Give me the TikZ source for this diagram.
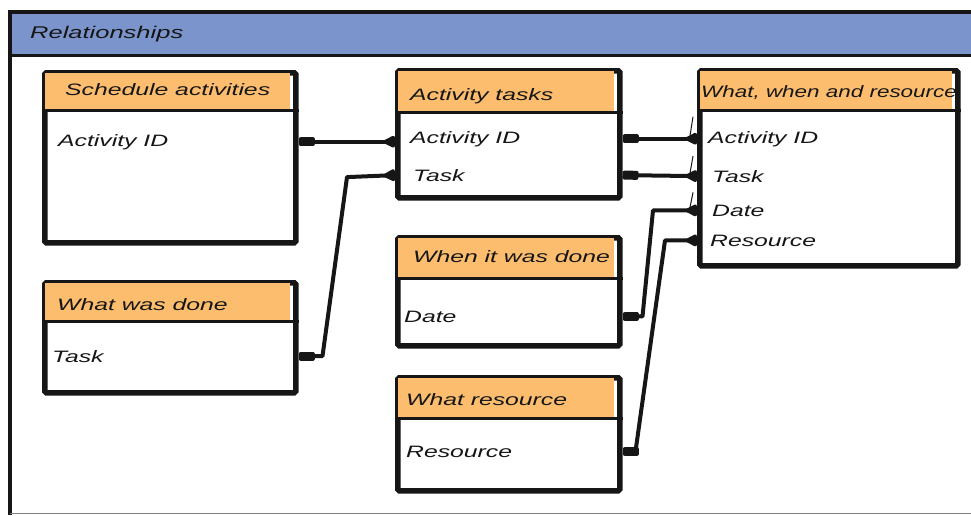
\documentclass[tikz,border=0pt]{standalone}
\usepackage{fontspec}
\newfontfamily\handfont[FakeStretch=1.5]{Liberation Sans}
\newfontfamily\handnarrow[FakeStretch=1.36]{Liberation Sans}
\usetikzlibrary{arrows.meta,calc}
\definecolor{bandblue}{RGB}{124,148,204}
\definecolor{headorange}{RGB}{252,190,110}
\definecolor{ink}{RGB}{22,22,22}

% entity box: id, x, y, width, height, header height
\newcommand{\entitybox}[6]{%
  \node[entity, minimum width=#4pt, minimum height=#5pt] (#1) at (#2,#3) {};
  \node[headbar, minimum width=#4pt-5.5pt, minimum height=#6pt-2.5pt] (#1-h) at (#2+2.75,#3+2.75) {};
  \draw[sepline] (#1.west |- #1-h.south) -- (#1.east |- #1-h.south);
}

\begin{document}
\begin{tikzpicture}[x=1pt,y=-1pt,
  entity/.style={draw=ink, line width=5.5pt, fill=white, rectangle, inner sep=0pt,
    anchor=north west, rounded corners=1.5pt},
  headbar/.style={fill=headorange, draw=none, rectangle, inner sep=0pt, anchor=north west},
  sepline/.style={draw=ink, line width=3.5pt},
  label/.style={font=\handfont\itshape\fontsize{16.5}{18}\selectfont, text=ink,
    anchor=base west, inner sep=0pt},
  link/.style={draw=ink, line width=4pt, line join=round,
    {Rectangle[length=16pt,width=9pt,round]}-{Triangle[reversed,length=14pt,width=13pt,round]}},
  prong/.style={draw=ink, line width=1pt}
]
\useasboundingbox (0,0) rectangle (971,515);

% outer frame with title band
\fill[bandblue] (10,12) rectangle (971,55);
\draw[ink, line width=3pt] (10,55) -- (971,55);
\draw[ink, line width=3.5pt] (971,12) -- (10,12) -- (10,515);
\draw[gray, line width=1pt] (10,513) -- (971,513);
\node[label, font=\handfont\itshape\fontsize{17}{19}\selectfont] (title) at (30,38) {Relationships};

% entities
\entitybox{sa}{42}{70}{251}{170}{40}
\entitybox{wd}{42}{280}{251}{110}{41}
\entitybox{at}{395}{68}{222}{127}{44}
\entitybox{wt}{395}{235}{222}{108}{43}
\entitybox{wr}{395}{375}{222}{113}{43}
\entitybox{ww}{697}{68}{258}{195}{42}

% headings
\node[label] (sa-t) at (65,95) {Schedule activities};
\node[label] (wd-t) at (57,310) {What was done};
\node[label] (at-t) at (410,100) {Activity tasks};
\node[label] (wt-t) at (413,262) {When it was done};
\node[label] (wr-t) at (406,405) {What resource};
\node[label, font=\handnarrow\itshape\fontsize{16.5}{18}\selectfont] (ww-t) at (701,97) {What, when and resource};

% attributes
\node[label] (sa-id) at (58,146) {Activity ID};
\node[label] (wd-task) at (52,362) {Task};
\node[label] (at-id) at (410,143) {Activity ID};
\node[label] (at-task) at (413,181) {Task};
\node[label] (wt-date) at (404,322) {Date};
\node[label] (wr-res) at (406,457) {Resource};
\node[label] (ww-id) at (708,143) {Activity ID};
\node[label] (ww-task) at (712,182) {Task};
\node[label] (ww-date) at (712,216) {Date};
\node[label] (ww-res) at (710,246) {Resource};

% relationships
\draw[link] (sa.east |- sa-id) -- (at.west |- sa-id);
\draw[link] (wd.east |- wd-task) -- ++(24,0)
  -- ($(at.west |- at-task)+(-48,2)$) -- (at.west |- at-task);
\draw[link] (at.east |- at-id) -- (ww.west |- at-id);
\draw[link] (at.east |- at-task) -- (ww.west |- ww-task);
\draw[link] (wt.east |- wt-date) -- ++(20,0)
  -- ($(ww.west |- ww-date)+(-44,0)$) -- (ww.west |- ww-date);
\draw[link] (wr.east |- wr-res) -- ++(13,0)
  -- ($(ww.west |- ww-res)+(-32,0)$) -- (ww.west |- ww-res);

% crow's-foot prongs at the many side
\draw[prong] ($(ww.west |- at-id)+(-7,-3)$) -- ($(ww.west |- at-id)+(-4,-22)$);
\draw[prong] ($(ww.west |- ww-task)+(-7,-3)$) -- ($(ww.west |- ww-task)+(-4,-20)$);
\draw[prong] ($(ww.west |- ww-date)+(-7,-3)$) -- ($(ww.west |- ww-date)+(-4,-18)$);
\end{tikzpicture}
\end{document}
